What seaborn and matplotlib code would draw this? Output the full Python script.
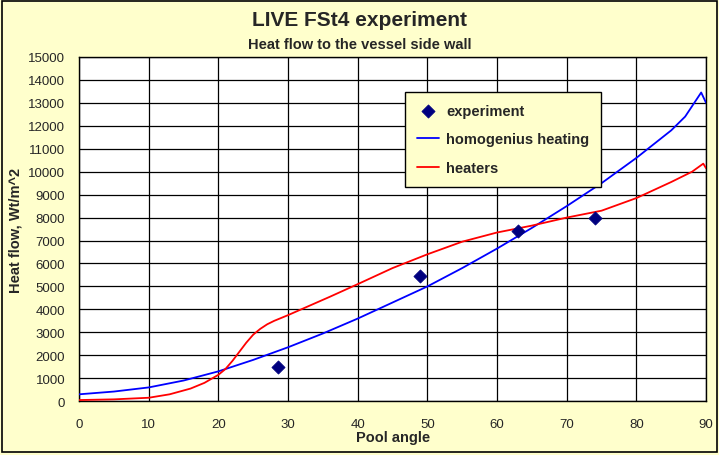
import numpy as np
import pandas as pd
import matplotlib
matplotlib.use("Agg")
import matplotlib.pyplot as plt
import seaborn as sns
from matplotlib.ticker import MultipleLocator

# Data

exp_angle = [28.5, 49, 63, 74]
exp_flow = [1500, 5450, 7400, 8000]

homog_angle = [0, 5, 10, 15, 20, 25, 30, 35, 40, 45, 50, 55, 60, 65, 70, 75, 80, 85, 87, 89.3, 90]
homog_flow = [300, 420, 600, 900, 1300, 1800, 2350, 2950, 3600, 4300, 5000, 5800, 6650, 7550, 8500, 9500, 10600, 11800, 12400, 13450, 13000]

heat_angle = [0, 5, 10, 13, 16, 18, 20, 21, 22, 23, 24, 25, 26, 27, 28, 30, 33, 36, 40, 45,
              50, 55, 60, 65, 70, 75, 80, 85, 88, 89.6, 90]
heat_flow = [50, 80, 150, 300, 550, 800, 1150, 1400, 1750, 2150, 2550, 2900, 3150, 3350, 3500, 3750, 4150, 4550, 5100, 5800,
             6400, 6950, 7350, 7650, 8000, 8300, 8850, 9550, 10000, 10350, 10150]

sns.set_style("white")
plt.rcParams['font.family'] = ['Liberation Sans', 'DejaVu Sans']

bg = "#FFFFCC"
fig = plt.figure(figsize=(7.19, 4.56), dpi=100, facecolor=bg)
ax = fig.add_axes([0.110, 0.118, 0.872, 0.755])
ax.set_facecolor("white")

sns.scatterplot(x=exp_angle, y=exp_flow, ax=ax, marker="D", s=45, color="#00007F",
                edgecolor="#00007F", label="experiment", zorder=5)
sns.lineplot(x=homog_angle, y=homog_flow, ax=ax, sort=False, color="#0000FF", lw=1.3,
             label="homogenius heating", zorder=4)
sns.lineplot(x=heat_angle, y=heat_flow, ax=ax, sort=False, color="#FF0000", lw=1.3,
             label="heaters", zorder=4)

ax.set_xlim(0, 90)
ax.set_ylim(0, 15000)
ax.xaxis.set_major_locator(MultipleLocator(10))
ax.xaxis.set_minor_locator(MultipleLocator(5))
ax.yaxis.set_major_locator(MultipleLocator(1000))
ax.yaxis.set_minor_locator(MultipleLocator(500))
ax.grid(True, which="major", color="black", lw=0.9)
ax.tick_params(which="major", direction="out", length=4, color="black", labelsize=9.5, pad=6)
ax.tick_params(which="minor", direction="out", length=2, color="black")
ax.tick_params(axis="x", pad=8)
for s in ax.spines.values():
    s.set_color("black")
    s.set_linewidth(1)

ax.set_xlabel("Pool angle", fontsize=10.5, fontweight="bold", labelpad=0)
ax.set_ylabel("Heat flow, Wt/m^2", fontsize=10.5, fontweight="bold", labelpad=4)

fig.text(0.5, 0.955, "LIVE FSt4 experiment", ha="center", va="center", fontsize=15, fontweight="bold")
fig.text(0.5, 0.902, "Heat flow to the vessel side wall", ha="center", va="center", fontsize=10.5, fontweight="bold")

leg = ax.legend(loc="upper left", bbox_to_anchor=(0.52, 0.898), frameon=True, fancybox=False,
                facecolor=bg, edgecolor="black", framealpha=1, fontsize=10.5,
                handlelength=1.5, handletextpad=0.5, labelspacing=1.0, borderpad=0.8,
                borderaxespad=0)
leg.get_frame().set_linewidth(1)
for t in leg.get_texts():
    t.set_fontweight("bold")

# outer border
fig.patches.append(plt.Rectangle((0.003, 0.006), 0.994, 0.99, transform=fig.transFigure,
                                 fill=False, edgecolor="black", lw=1.2))

fig.savefig("out.png", dpi=100, facecolor=bg)
